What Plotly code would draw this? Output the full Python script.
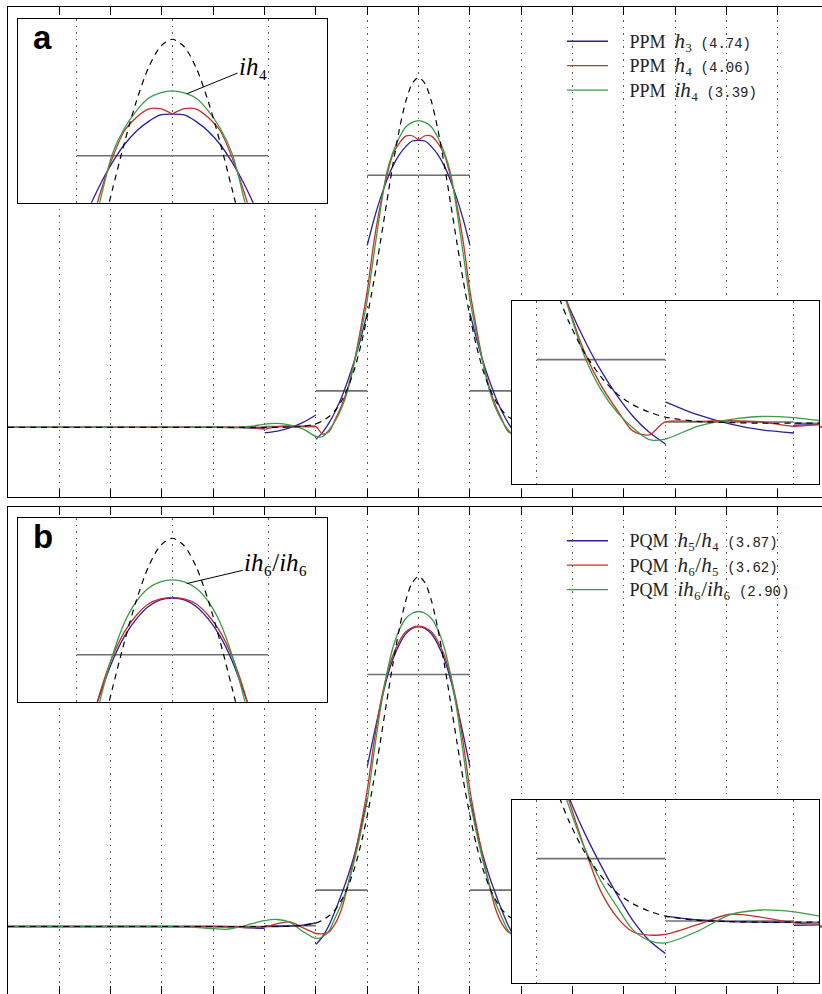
import plotly.graph_objects as go

# ---------------------------------------------------------------------------
# Data.  Abscissae are in cell widths measured from the peak; every curve is
# symmetric, so only the right half (x >= 0) is listed and reflected below.
# ---------------------------------------------------------------------------

# sample abscissae: fine over the two central cells, coarser further out
XC = [0, .125, .25, .375, .5, .625, .75, .875, 1,
      1.125, 1.25, 1.375, 1.5, 1.625, 1.75, 1.875, 2,
      2.25, 2.5, 2.75, 3, 3.25, 3.5, 3.75, 4,
      4.5, 5, 6, 8]
# same abscissae with the cell edges repeated, for reconstructions that jump there
XJ = [0, .125, .25, .375, .5, .625, .75, .875, 1,
      1, 1.125, 1.25, 1.375, 1.5, 1.625, 1.75, 1.875, 2,
      2, 2.25, 2.5, 2.75, 3,
      3, 3.25, 3.5, 3.75, 4,
      4.5, 5, 6, 8]

# exact profile (dashed)
EXACT = [1.000, 0.982, 0.931, 0.851, 0.751, 0.639, 0.524, 0.415, 0.317,
         0.234, 0.166, 0.114, 0.076, 0.048, 0.030, 0.018, 0.010,
         0.003, 0.001, 0.000, 0.000, 0.000, 0.000, 0.000, 0.000,
         0.000, 0.000, 0.000, 0.000]

# cell averages for cells [0,1], [1,2], ... [7,8]
CELL_AVG = [0.72, 0.104, 0.002, 0.0, 0.0, 0.0, 0.0, 0.0]

# panel a: PPM reconstructions
A_H3 = [0.820, 0.818, 0.802, 0.779, 0.747, 0.704, 0.652, 0.591, 0.520,
        0.326, 0.255, 0.191, 0.135, 0.086, 0.045, 0.011, -0.015, -0.034,
        0.035, 0.014, -0.001, -0.011, -0.016,
        -0.003, -0.002, -0.001, 0.000, 0.000,
        0.000, 0.000, 0.000, 0.000]
A_H4 = [0.820, 0.833, 0.832, 0.812, 0.780, 0.715, 0.632, 0.525, 0.390,
        0.285, 0.190, 0.115, 0.062, 0.022, -0.013, -0.019, 0.002,
        0.003, 0.004, 0.002, -0.005, -0.001, 0.000, 0.000, 0.000,
        0.000, 0.000, 0.000, 0.000]
A_IH4 = [0.876, 0.871, 0.858, 0.828, 0.786, 0.725, 0.615, 0.490, 0.364,
         0.270, 0.186, 0.108, 0.055, 0.018, -0.008, -0.027, -0.026,
         -0.005, 0.006, 0.011, 0.009, 0.003, 0.000, -0.001, 0.000,
         0.000, 0.000, 0.000, 0.000]

# panel b: PQM reconstructions
B_H5H4 = [0.856, 0.852, 0.836, 0.806, 0.764, 0.705, 0.628, 0.545, 0.457,
          0.366, 0.280, 0.205, 0.145, 0.093, 0.045, 0.002, -0.030, -0.051,
          0.010, 0.004, 0.001, 0.000, 0.000,
          -0.005, -0.004, -0.002, -0.001, 0.000,
          0.000, 0.000, 0.000, 0.000]
B_H6H5 = [0.858, 0.854, 0.842, 0.815, 0.775, 0.715, 0.632, 0.520, 0.390,
          0.290, 0.200, 0.120, 0.050, 0.008, -0.016, -0.021, -0.020,
          -0.004, 0.013, 0.008, -0.001, -0.003, -0.002, 0.000, 0.000,
          0.000, 0.000, 0.000, 0.000]
B_IH6 = [0.900, 0.895, 0.880, 0.848, 0.797, 0.718, 0.615, 0.490, 0.360,
         0.270, 0.190, 0.120, 0.067, 0.025, -0.013, -0.030, -0.034,
         -0.015, 0.012, 0.020, 0.017, 0.008, -0.002, -0.008, -0.006,
         -0.001, 0.000, 0.000, 0.000]

LEGEND_A = ["PPM", "PPM", "PPM"]
SYMB_A = ["<i>h</i>₃", "<i>h</i>₄", "<i>ih</i>₄"]
NORM_A = ["(4.74)", "(4.06)", "(3.39)"]
LEGEND_B = ["PQM", "PQM", "PQM"]
SYMB_B = ["<i>h</i>₅/<i>h</i>₄", "<i>h</i>₆/<i>h</i>₅", "<i>ih</i>₆/<i>ih</i>₆"]
NORM_B = ["(3.87)", "(3.62)", "(2.90)"]

# ---------------------------------------------------------------------------
BLUE, RED, GREEN = "#2b2196", "#c4302b", "#3b9b46"
GRAY = "#707070"
SERIF = "Liberation Serif"


def reflect(xs, ys, split_at_peak=False):
    """Whole curve from its right half; a repeated abscissa is a jump."""
    lx = [-x for x in xs[::-1]]
    ly = list(ys[::-1])
    if split_at_peak:
        X, Y = lx + [None] + list(xs), ly + [None] + list(ys)
    else:
        X, Y = lx + list(xs[1:]), ly + list(ys[1:])
    ox, oy = [], []
    for i, (x, y) in enumerate(zip(X, Y)):
        if i and x is not None and X[i - 1] is not None and x == X[i - 1]:
            ox.append(None)
            oy.append(None)
        ox.append(x)
        oy.append(y)
    return ox, oy


def steps(avgs):
    xs, ys = [], []
    n = len(avgs)
    for k in range(-n, n):
        v = avgs[k] if k >= 0 else avgs[-k - 1]
        xs += [k, k + 1, None]
        ys += [v, v, None]
    return xs, ys


def label(method, symb, norm):
    return ("\u2003<span style='font-size:18px'>" + method + "\u2002</span>"
            "<span style='font-size:21px'>" + symb + "</span>\u2002"
            "<span style='font-family:Liberation Mono;font-size:14px'>" + norm + "</span>")


fig = go.Figure()

panels = [
    dict(curves=[(XJ, A_H3, False, BLUE), (XC, A_H4, True, RED), (XC, A_IH4, False, GREEN)],
         names=[label(*t) for t in zip(LEGEND_A, SYMB_A, NORM_A)], legend="legend", axes=[1, 2, 3]),
    dict(curves=[(XJ, B_H5H4, False, BLUE), (XC, B_H6H5, False, RED), (XC, B_IH6, False, GREEN)],
         names=[label(*t) for t in zip(LEGEND_B, SYMB_B, NORM_B)], legend="legend2", axes=[4, 5, 6]),
]

sx, sy = steps(CELL_AVG)
ex, ey = reflect(XC, EXACT)

for p in panels:
    for j, ax in enumerate(p["axes"]):
        xa = "x" if ax == 1 else f"x{ax}"
        ya = "y" if ax == 1 else f"y{ax}"
        fig.add_trace(go.Scatter(x=sx, y=sy, mode="lines", xaxis=xa, yaxis=ya,
                                 line=dict(color=GRAY, width=1.6), showlegend=False,
                                 hoverinfo="skip"))
        for (xs, ys, split, col), name in zip(p["curves"], p["names"]):
            cx, cy = reflect(xs, ys, split)
            fig.add_trace(go.Scatter(x=cx, y=cy, mode="lines", xaxis=xa, yaxis=ya,
                                     line=dict(color=col, width=1.3, shape="spline", smoothing=0.8),
                                     name=name, legend=p["legend"], showlegend=(j == 0)))
        fig.add_trace(go.Scatter(x=ex, y=ey, mode="lines", xaxis=xa, yaxis=ya,
                                 line=dict(color="black", width=1.2, dash="6px,5px",
                                           shape="spline", smoothing=0.8),
                                 showlegend=False, hoverinfo="skip"))

W, H = 822, 994


def px_x(a, b):
    return [a / W, b / W]


def px_y(top, bottom):
    return [max(0.0, 1 - bottom / H), 1 - top / H]


GRID = dict(showgrid=True, gridcolor="#555555", gridwidth=1, griddash="1.5px,5px",
            dtick=1, tick0=0)

main_x = dict(GRID, range=[-8.0, 7.86], showticklabels=False, ticks="inside", ticklen=8,
              tickwidth=1, tickcolor="black", showline=True, linecolor="black",
              linewidth=1.3, mirror="ticks", zeroline=False)
main_y = dict(range=[-0.2, 1.2], showgrid=False, zeroline=False, showticklabels=False,
              showline=True, linecolor="black", linewidth=1.3, ticks="")
tl_x = dict(GRID, range=[-1.608, 1.612], showticklabels=False, ticks="", showline=True,
            linecolor="black", linewidth=1.4, mirror=True, zeroline=False)
tl_y = dict(range=[0.607, 1.048], showgrid=False, zeroline=False, showticklabels=False,
            showline=True, linecolor="black", linewidth=1.4, mirror=True, ticks="")
br_x = dict(GRID, range=[0.806, 3.197], showticklabels=False, ticks="", showline=True,
            linecolor="black", linewidth=1.4, mirror=True, zeroline=False)
br_y = dict(range=[-0.1, 0.2], showgrid=False, zeroline=False, showticklabels=False,
            showline=True, linecolor="black", linewidth=1.4, mirror=True, ticks="")

yb_bottom = -0.2 + (996.5 - H) / 350.0

layout_axes = {
    "xaxis": dict(main_x, domain=px_x(8, W), anchor="y"),
    "yaxis": dict(main_y, domain=px_y(7.3, 497.3), anchor="x"),
    "xaxis2": dict(tl_x, domain=px_x(18.3, 326.7), anchor="y2"),
    "yaxis2": dict(tl_y, domain=px_y(19.3, 202.7), anchor="x2"),
    "xaxis3": dict(br_x, domain=px_x(511.7, 819.3), anchor="y3"),
    "yaxis3": dict(br_y, domain=px_y(301.0, 484.3), anchor="x3"),
    "xaxis4": dict(main_x, domain=px_x(8, W), anchor="y4"),
    "yaxis4": dict(main_y, range=[yb_bottom, 1.2], domain=px_y(506.5, H), anchor="x4"),
    "xaxis5": dict(tl_x, domain=px_x(18.3, 326.7), anchor="y5"),
    "yaxis5": dict(tl_y, domain=px_y(518.3, 701.7), anchor="x5"),
    "xaxis6": dict(br_x, domain=px_x(511.7, 819.3), anchor="y6"),
    "yaxis6": dict(br_y, domain=px_y(800.0, 983.3), anchor="x6"),
}

# opaque backgrounds for the insets, drawn beneath their own grid and curves
shapes = []
for ax, (xr, yr) in zip([2, 3, 5, 6], [(tl_x["range"], tl_y["range"]), (br_x["range"], br_y["range"]),
                                       (tl_x["range"], tl_y["range"]), (br_x["range"], br_y["range"])]):
    shapes.append(dict(type="rect", xref=f"x{ax}", yref=f"y{ax}", x0=xr[0], x1=xr[1],
                       y0=yr[0], y1=yr[1], fillcolor="white", line=dict(width=0), layer="below"))

legend_style = dict(xanchor="left", yanchor="top", bgcolor="rgba(0,0,0,0)", borderwidth=0,
                    font=dict(family=SERIF, size=16.5, color="#222222"), itemwidth=41,
                    traceorder="normal", tracegroupgap=0)

annotations = [
    dict(text="<b>a</b>", x=0.041, y=1.01, xref="x2 domain", yref="y2 domain",
         showarrow=False, font=dict(family="Liberation Sans", size=33, color="black")),
    dict(text="<b>b</b>", x=0.041, y=1.01, xref="x5 domain", yref="y5 domain",
         showarrow=False, font=dict(family="Liberation Sans", size=33, color="black")),
    dict(text="<i>ih</i>₄", x=0.153, y=0.869, xref="x2", yref="y2",
         ax=66, ay=-27, showarrow=True, arrowhead=0, arrowwidth=1, arrowcolor="black",
         standoff=0, font=dict(family=SERIF, size=25, color="black")),
    dict(text="<i>ih</i>₆/<i>ih</i>₆", x=0.15, y=0.891, xref="x5", yref="y5",
         ax=89, ay=-21, showarrow=True, arrowhead=0, arrowwidth=1, arrowcolor="black",
         standoff=0, font=dict(family=SERIF, size=25, color="black")),
]

fig.update_layout(
    width=W, height=H, margin=dict(l=0, r=0, t=0, b=0),
    paper_bgcolor="white", plot_bgcolor="white",
    showlegend=True,
    legend=dict(legend_style, x=562 / W, y=1 - 24 / H),
    legend2=dict(legend_style, x=562 / W, y=1 - 523.5 / H),
    shapes=shapes, annotations=annotations,
    **layout_axes,
)

fig.write_html("out.html")
